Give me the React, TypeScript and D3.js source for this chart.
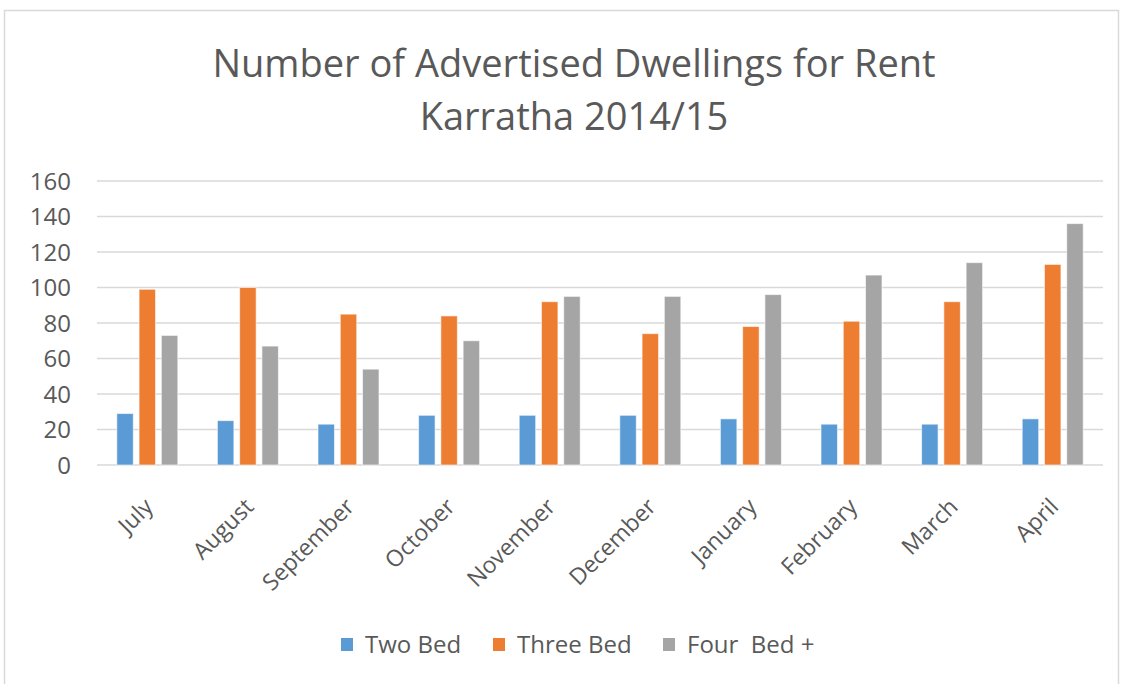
import React from "react";
import * as d3 from "d3";

const months = ["July", "August", "September", "October", "November", "December", "January", "February", "March", "April"];
const seriesNames = ["Two Bed", "Three Bed", "Four  Bed +"];
const twoBed = [29, 25, 23, 28, 28, 28, 26, 23, 23, 26];
const threeBed = [99, 100, 85, 84, 92, 74, 78, 81, 92, 113];
const fourBed = [73, 67, 54, 70, 95, 95, 96, 107, 114, 136];
const yTicks = [0, 20, 40, 60, 80, 100, 120, 140, 160];
const colors = ["#5B9BD5", "#ED7D31", "#A5A5A5"];

const W = 1129;
const H = 684;
const FONT = "'Open Sans', sans-serif";

export default function App() {
  const series = [twoBed, threeBed, fourBed];
  const x0 = d3.scaleBand<string>().domain(months).range([97, 1103]).paddingInner(0).paddingOuter(0);
  const groupW = 61;
  const x1 = d3.scaleBand<number>().domain([0, 1, 2]).range([0, groupW]).paddingInner(0.26).paddingOuter(0);
  const y = d3.scaleLinear().domain([0, 160]).range([465, 181]);

  const legendX = [341, 493, 663];

  return (
    <svg width={W} height={H} style={{ position: "absolute", left: 0, top: 0, background: "#fff" }} fontFamily={FONT}>
      <rect x={0} y={0} width={W} height={H} fill="#fff" />
      <rect x={4.5} y={10.5} width={1114} height={700} fill="#fff" stroke="#D9D9D9" strokeWidth={1.5} />
      <text x={574} y={77} textAnchor="middle" fontSize={38} fill="#595959">Number of Advertised Dwellings for Rent</text>
      <text x={574} y={130} textAnchor="middle" fontSize={38} fill="#595959">Karratha 2014/15</text>

      {yTicks.map((t) => (
        <g key={t}>
          <line x1={97} x2={1103} y1={y(t)} y2={y(t)} stroke="#D9D9D9" strokeWidth={1.5} />
          <text x={71} y={y(t)} dy="0.36em" textAnchor="end" fontSize={24} fill="#595959">{t}</text>
        </g>
      ))}

      {months.map((m, i) => (
        <g key={m} transform={`translate(${x0(m)! + (x0.bandwidth() - groupW) / 2},0)`}>
          {series.map((s, k) => (
            <rect
              key={k}
              x={x1(k)!}
              y={y(s[i])}
              width={x1.bandwidth()}
              height={y(0) - y(s[i])}
              fill={colors[k]}
              stroke="#fff"
              strokeOpacity={0.6}
              strokeWidth={1}
            />
          ))}
        </g>
      ))}

      {months.map((m) => {
        const cx = x0(m)! + x0.bandwidth() / 2 - 5;
        return (
          <text
            key={m}
            transform={`translate(${cx},496) rotate(-45)`}
            textAnchor="end"
            dy="0.75em"
            fontSize={23}
            fill="#595959"
          >
            {m}
          </text>
        );
      })}

      {seriesNames.map((n, k) => (
        <g key={n}>
          <rect x={legendX[k]} y={638} width={12} height={13} fill={colors[k]} />
          <text x={legendX[k] + 24} y={653} fontSize={24} fill="#595959" style={{ whiteSpace: "pre" }}>{n}</text>
        </g>
      ))}
    </svg>
  );
}
